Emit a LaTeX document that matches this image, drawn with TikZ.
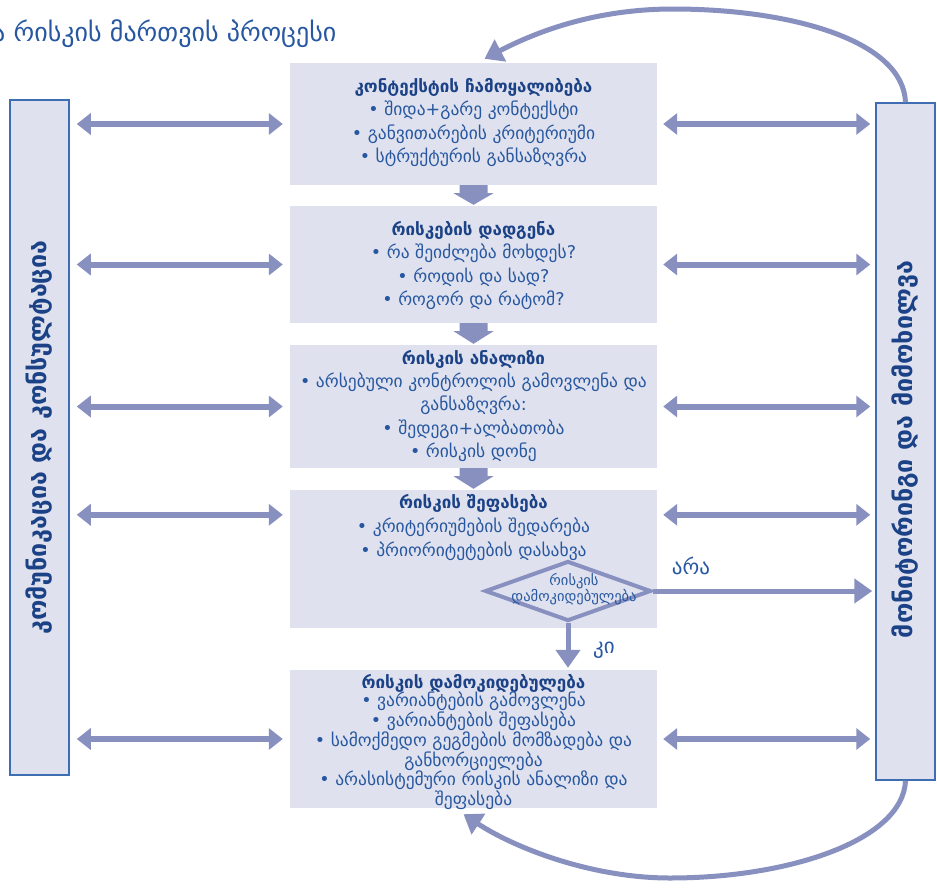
\documentclass[tikz,border=0pt]{standalone}
\usepackage{fontspec}
\setmainfont{DejaVu Sans}
\usetikzlibrary{arrows.meta,shapes.geometric,calc}
\definecolor{boxfill}{HTML}{DFE1EE}
\definecolor{acol}{HTML}{8890C0}
\definecolor{tcol}{HTML}{2657A0}
\definecolor{hcol}{HTML}{1B4286}
\definecolor{sideline}{HTML}{3F6DB4}
\newcommand{\hd}[1]{{\bfseries\color{hcol}\fontsize{17}{23.5}\selectfont #1}}
\begin{document}
\begin{tikzpicture}[x=1pt,y=-1pt,
  mainbox/.style={fill=boxfill, draw=none, minimum width=367pt, inner sep=0pt},
  sidebox/.style={fill=boxfill, draw=sideline, line width=1.5pt, minimum width=59pt, inner sep=0pt},
  boxtext/.style={text=tcol, align=center, inner sep=0pt, anchor=north, font=\fontsize{17.5}{23.5}\selectfont},
  sidetext/.style={text=hcol, font=\bfseries\fontsize{25}{28}\selectfont, inner sep=0pt},
  dbl/.style={draw=acol, line width=6pt, {Triangle[width=21pt,length=14pt]}-{Triangle[width=21pt,length=14pt]}},
  arr/.style={draw=acol, line width=5pt, -{Triangle[width=24pt,length=18pt]}},
  lbl/.style={text=tcol, font=\fontsize{21}{24}\selectfont, inner sep=0pt}
]
\useasboundingbox (0,0) rectangle (937,889);

% main boxes
\node[mainbox, minimum height=122pt] (b1) at (473.5,124) {};
\node[mainbox, minimum height=117pt] (b2) at (473.5,264.5) {};
\node[mainbox, minimum height=123pt] (b3) at (473.5,406.5) {};
\node[mainbox, minimum height=138pt] (b4) at (473.5,559) {};
\node[mainbox, minimum height=138pt] (b5) at (473.5,739) {};

% side boxes
\node[sidebox, minimum height=675pt] (L) at (39.5,437.5) {};
\node[sidebox, minimum height=677pt] (R) at (905.5,441.5) {};
\node[sidetext, rotate=90] (Lt) at (L.center) {კომუნიკაცია და კონსულტაცია};
\node[sidetext, rotate=90] (Rt) at ([yshift=-8pt]R.center) {მონიტორინგი და მიმოხილვა};

% title
\node[anchor=base west, text=tcol, font=\fontsize{26}{30}\selectfont, inner sep=0pt] (title) at (-8,41) {ა რისკის მართვის პროცესი};

% box texts
\node[boxtext] (t1) at ([yshift=-15pt]b1.north) {\hd{კონტექსტის ჩამოყალიბება}\\ • შიდა+გარე კონტექსტი\\ • განვითარების კრიტერიუმი\\ • სტრუქტურის განსაზღვრა};
\node[boxtext] (t2) at ([yshift=-15pt]b2.north) {\hd{რისკების დადგენა}\\ • რა შეიძლება მოხდეს?\\ • როდის და სად?\\ • როგორ და რატომ?};
\node[boxtext, font=\fontsize{17.5}{23.3}\selectfont] (t3) at ([yshift=-5pt]b3.north) {\hd{რისკის ანალიზი}\\ • არსებული კონტროლის გამოვლენა და\\ განსაზღვრა:\\ • შედეგი+ალბათობა\\ • რისკის დონე};
\node[boxtext, font=\fontsize{17.5}{24}\selectfont] (t4) at ([yshift=-4pt]b4.north) {\hd{რისკის შეფასება}\\ • კრიტერიუმების შედარება\\ • პრიორიტეტების დასახვა};
\node[boxtext, font=\fontsize{17.5}{18.7}\selectfont] (t5) at ([yshift=-4pt]b5.north) {\hd{რისკის დამოკიდებულება}\\ • ვარიანტების გამოვლენა\\ • ვარიანტების შეფასება\\ • სამოქმედო გეგმების მომზადება და\\ განხორციელება\\ • არასისტემური რისკის ანალიზი და\\ შეფასება};

% down block arrows
\foreach \a/\b in {b1/b2,b2/b3,b3/b4}{
  \fill[acol] ($(\a.south)+(-14,0)$) -- ($(\a.south)+(14,0)$) -- ($(\a.south)+(14,8)$) -- ($(\a.south)+(20,8)$) -- ($(\b.north)+(0,-1)$) -- ($(\a.south)+(-20,8)$) -- ($(\a.south)+(-14,8)$) -- cycle;
}

% diamond
\node[diamond, draw=acol, line width=4pt, fill=boxfill, minimum width=166pt, minimum height=60pt, inner sep=0pt, aspect=2.77] (d) at (568,591) {};
\node[text=tcol, font=\fontsize{14.5}{15.5}\selectfont, align=center, inner sep=0pt] (dt) at ([xshift=6pt,yshift=2pt]d.center) {რისკის\\დამოკიდებულება};
\draw[arr, shorten >=3pt] (d.east) -- (d.east -| R.west);
\draw[arr, shorten >=2pt] (d.south) -- (d.south |- b5.north);
\node[lbl] (no) at (691,566) {არა};
\node[lbl] (yes) at (604,650) {კი};

% horizontal double arrows
\coordinate (c4) at ($(b4.north west)+(0,25)$);
\coordinate (e4) at ($(b4.north east)+(0,25)$);
\foreach \n in {b1,b2,b3,b5}{
  \draw[dbl, shorten <=7pt, shorten >=7pt] (\n.west) -- (\n.west -| L.east);
  \draw[dbl, shorten <=6pt, shorten >=5pt] (\n.east) -- (\n.east -| R.west);
}
\draw[dbl, shorten <=7pt, shorten >=7pt] (c4) -- (c4 -| L.east);
\draw[dbl, shorten <=6pt, shorten >=5pt] (e4) -- (e4 -| R.west);

% curved feedback arrows
\draw[arr] (R.north) .. controls (903,40) and (790,9) .. (673,9) .. controls (590,9) and (530,35) .. ($(b1.north)+(11,-4)$);
\draw[arr] (R.south) .. controls (903,840) and (790,878) .. (670,878) .. controls (590,878) and (513,847) .. ($(b5.south)+(-10,6)$);
\end{tikzpicture}
\end{document}
